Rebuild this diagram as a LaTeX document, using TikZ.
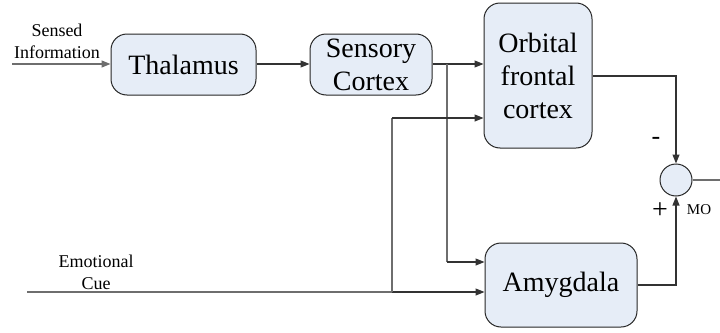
\documentclass[tikz,border=0pt]{standalone}
\usepackage{fontspec}
\setmainfont{Liberation Serif}
\usetikzlibrary{arrows.meta}
\definecolor{boxfill}{HTML}{E6EDF7}
\definecolor{linegray}{HTML}{6E6E6E}
\begin{document}
\begin{tikzpicture}[x=1pt,y=-1pt,
  blk/.style={draw=black!85, line width=1pt, fill=boxfill, rounded corners=16pt, align=center,
    font=\fontsize{28}{33}\selectfont, inner sep=0pt},
  conn/.style={line width=1.1pt, draw=black!80},
  gconn/.style={line width=1.3pt, draw=linegray},
  arr/.style={-{Triangle[length=9pt,width=7pt]}},
  lbl/.style={align=center, font=\fontsize{18}{22}\selectfont, inner sep=0pt},
  sumnode/.style={circle, draw=black!85, line width=1pt, fill=boxfill, minimum size=32pt, inner sep=0pt}
]
\useasboundingbox (0,0) rectangle (720,332);

\node[blk, minimum width=145pt, minimum height=61pt] (thal) at (183.5,64.5) {Thalamus};
\node[blk, minimum width=122pt, minimum height=61pt] (sens) at (371,64.5) {Sensory\\Cortex};
\node[blk, minimum width=108pt, minimum height=145pt] (ofc) at (538,75.5) {Orbital\\frontal\\cortex};
\node[blk, minimum width=152pt, minimum height=84pt] (amy) at (561,285) {Amygdala};
\node[sumnode] (sum) at (676,180) {};

\node[lbl] (sensed) at (57,41) {Sensed\\Information};
\node[lbl] (emo) at (96,272) {Emotional\\Cue};
\node[font=\fontsize{26}{26}\selectfont, inner sep=0pt] (minus) at (656,141) {-};
\node[font=\fontsize{28}{28}\selectfont, inner sep=0pt] (plus) at (660,211) {+};
\node[font=\fontsize{15}{15}\selectfont, inner sep=0pt] (mo) at (699,210) {MO};

\coordinate (sin) at (12,64);
\coordinate (ein) at (27,292);
\coordinate (j1) at (447,64);
\coordinate (j2) at (392,292);
\coordinate (out) at (720,180);

% inputs
\draw[gconn, arr] (sin) -- (thal.west |- sin);
\draw[conn, arr] (thal.east |- sin) -- (sens.west |- sin);
\draw[conn, arr] (sens.east |- j1) -- (ofc.west |- j1);
\draw[gconn] (ein) -- (j2);
\draw[conn, arr] (j2) -- (amy.west |- j2);
% branches
\draw[gconn] (j1) -- (447,262);
\draw[conn, arr] (447,262) -- (amy.west |- 0,262);
\draw[gconn] (j2) -- (392,118);
\draw[conn, arr] (392,118) -- (ofc.west |- 0,118);
% outputs
\draw[conn, arr] (ofc.east |- 0,76) -| (sum.north);
\draw[conn, arr] (amy.east) -| (sum.south);
\draw[gconn] (sum.east) -- (out);
\end{tikzpicture}
\end{document}
